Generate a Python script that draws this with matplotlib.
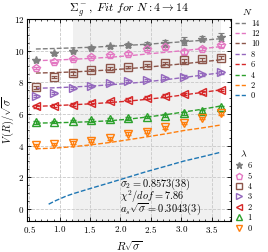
import matplotlib
matplotlib.use("Agg")
import matplotlib.pyplot as plt
from matplotlib.lines import Line2D
from matplotlib.ticker import MultipleLocator

plt.rcParams["mathtext.fontset"] = "cm"
plt.rcParams["font.family"] = "serif"
plt.rcParams["font.serif"] = ["cmr10", "DejaVu Serif"]
plt.rcParams["axes.formatter.use_mathtext"] = True

# lattice points R*sqrt(sigma)
r_pts = [0.609, 0.913, 1.217, 1.522, 1.826, 2.130, 2.435, 2.739, 3.043, 3.348, 3.652]

# measured levels (lambda -> values)
lam6 = [9.40, 9.83, 9.97, 10.18, 10.27, 10.34, 10.36, 10.45, 10.60, 10.76, 10.86]
lam5 = [8.89, 9.25, 9.46, 9.58, 9.69, 9.81, 10.12, 10.22, 9.94, 10.13, 10.34]
lam4 = [7.68, 8.34, 8.56, 8.77, 8.87, 8.96, 9.08, 9.23, 9.39, 9.44, 9.56]
lam3 = [7.14, 7.33, 7.64, 7.77, 7.96, 8.07, 8.15, 8.26, 8.36, 8.49, 8.63]
lam2 = [6.48, 6.53, 6.59, 6.71, 6.81, 6.91, 7.03, 7.15, 7.26, 7.36, 7.52]
lam1 = [5.46, 5.50, 5.55, 5.60, 5.65, 5.72, 5.80, 5.89, 6.04, 6.17, 6.42]
lam0 = [4.04, 4.10, 4.19, 4.31, 4.46, 4.76, 4.88, 5.16, 5.43, 5.73, 6.04]

err6 = [0.05, 0.08, 0.08, 0.08, 0.10, 0.12, 0.20, 0.20, 0.25, 0.15, 0.28]
err5 = [0.05, 0.06, 0.06, 0.06, 0.08, 0.08, 0.10, 0.10, 0.16, 0.08, 0.10]
err_small = [0.08] * 11

# fit curves
fit_x = [0.61, 0.91, 1.22, 1.52, 1.83, 2.13, 2.43, 2.74, 3.04, 3.35, 3.65]
fit14 = [10.10, 10.13, 10.17, 10.21, 10.27, 10.33, 10.40, 10.48, 10.56, 10.65, 10.75]
fit12 = [9.36, 9.40, 9.45, 9.51, 9.58, 9.67, 9.78, 9.89, 10.00, 10.12, 10.25]
fit10 = [8.58, 8.61, 8.65, 8.71, 8.78, 8.86, 8.95, 9.06, 9.17, 9.29, 9.42]
fit8 = [7.62, 7.65, 7.70, 7.76, 7.84, 7.93, 8.03, 8.16, 8.30, 8.45, 8.60]
fit6 = [6.48, 6.52, 6.58, 6.64, 6.72, 6.81, 6.92, 7.05, 7.20, 7.36, 7.52]
fit4 = [5.42, 5.44, 5.47, 5.51, 5.57, 5.67, 5.80, 5.95, 6.12, 6.30, 6.50]
fit2 = [3.80, 3.84, 3.93, 4.05, 4.20, 4.37, 4.55, 4.74, 4.95, 5.12, 5.30]
fit0_x = [0.82, 0.86, 0.90, 0.95, 1.00, 1.10, 1.22, 1.52, 1.83, 2.13, 2.43, 2.74, 3.04, 3.35, 3.65]
fit0 = [0.30, 0.38, 0.46, 0.55, 0.63, 0.80, 0.96, 1.31, 1.66, 2.01, 2.36, 2.69, 3.02, 3.30, 3.58]

c_grey, c_pink, c_brown, c_purple = "#7f7f7f", "#e377c2", "#8c564b", "#9467bd"
c_red, c_green, c_orange, c_blue = "#d62728", "#2ca02c", "#ff7f0e", "#1f77b4"

fig = plt.figure(figsize=(2.68, 2.52), dpi=100)
ax = fig.add_axes([0.101, 0.123, 0.761, 0.802])

ax.axvspan(1.22, 3.66, color="#f0f0f0", zorder=0, lw=0)

fits = [(fit_x, fit14, c_grey, "14"), (fit_x, fit12, c_pink, "12"),
        (fit_x, fit10, c_brown, "10"), (fit_x, fit8, c_purple, "8"),
        (fit_x, fit6, c_red, "6"), (fit_x, fit4, c_green, "4"),
        (fit_x, fit2, c_orange, "2"), (fit0_x, fit0, c_blue, "0")]
for fx, fy, c, lab in fits:
    ax.plot(fx, fy, ls="--", color=c, lw=1.0, dashes=(3.5, 1.5), zorder=2)

levels = [(lam6, err6, c_grey, "*", "6"), (lam5, err5, c_pink, "p", "5"),
          (lam4, err_small, c_brown, "s", "4"), (lam3, err_small, c_purple, ">", "3"),
          (lam2, err_small, c_red, "<", "2"), (lam1, err_small, c_green, "^", "1"),
          (lam0, err_small, c_orange, "v", "0")]
for vals, err, c, m, lab in levels:
    if m == "*":
        ax.errorbar(r_pts, vals, yerr=err, fmt=m, color=c, ms=6, mfc=c, mec=c,
                    capsize=2, elinewidth=0.8, capthick=0.8, zorder=3)
    else:
        ax.errorbar(r_pts, vals, yerr=err, fmt=m, color=c, ms=5.5, mfc="none", mec=c,
                    mew=1.0, capsize=2, elinewidth=0.8, capthick=0.8, zorder=3)

ax.set_xlim(0.465, 3.82)
ax.set_ylim(-0.76, 12)
ax.xaxis.set_major_locator(MultipleLocator(0.5))
ax.xaxis.set_minor_locator(MultipleLocator(0.1))
ax.yaxis.set_major_locator(MultipleLocator(2))
ax.yaxis.set_minor_locator(MultipleLocator(0.5))
ax.tick_params(which="both", direction="in", top=True, right=True, labelsize=6.5, pad=2)
ax.tick_params(which="major", length=3, width=0.6)
ax.tick_params(which="minor", length=1.6, width=0.5)
for s in ax.spines.values():
    s.set_linewidth(0.8)
ax.grid(True, which="major", ls="--", color="#c8c8c8", lw=0.6, zorder=1)

ax.set_xlabel(r"$R\sqrt{\sigma}$", fontsize=8, labelpad=3)
ax.set_ylabel(r"$V\,(R)/\sqrt{\sigma}$", fontsize=7.5, labelpad=-1.5)
ax.set_title(r"$\Sigma_g^-,\ Fit\ for\ N: 4\rightarrow 14$", fontsize=8.5, pad=3)

ax.text(2.0, 1.58, r"$\sigma_2 = 0.8573(38)$", fontsize=7.5, va="center")
ax.text(2.0, 0.76, r"$\chi^2/dof = 7.86$", fontsize=7.5, va="center")
ax.text(2.0, 0.0, r"$a_s\sqrt{\sigma} = 0.3043(3)$", fontsize=7.5, va="center")

n_handles = [Line2D([0], [0], ls="--", color=c, lw=1.0, dashes=(3, 1.5)) for _, _, c, _ in fits]
n_labels = [lab for _, _, _, lab in fits]
leg1 = fig.legend(n_handles, n_labels, title=r"$N$", loc="upper left",
                  bbox_to_anchor=(0.865, 0.985), frameon=False, fontsize=6,
                  title_fontsize=7, handlelength=1.4, handletextpad=0.5,
                  labelspacing=0.24, borderaxespad=0)

l_handles = []
for _, _, c, m, _ in levels:
    if m == "*":
        l_handles.append(Line2D([0], [0], ls="none", marker=m, color=c, ms=5, mfc=c, mec=c))
    else:
        l_handles.append(Line2D([0], [0], ls="none", marker=m, color=c, ms=5, mfc="none", mec=c, mew=1.0))
l_labels = [lab for _, _, _, _, lab in levels]
leg2 = fig.legend(l_handles, l_labels, title=r"$\lambda$", loc="upper left",
                  bbox_to_anchor=(0.865, 0.42), frameon=False, fontsize=6,
                  title_fontsize=7, handlelength=1.0, handletextpad=0.5,
                  labelspacing=0.24, borderaxespad=0)

plt.savefig("out.png", dpi=100)
plt.close()
